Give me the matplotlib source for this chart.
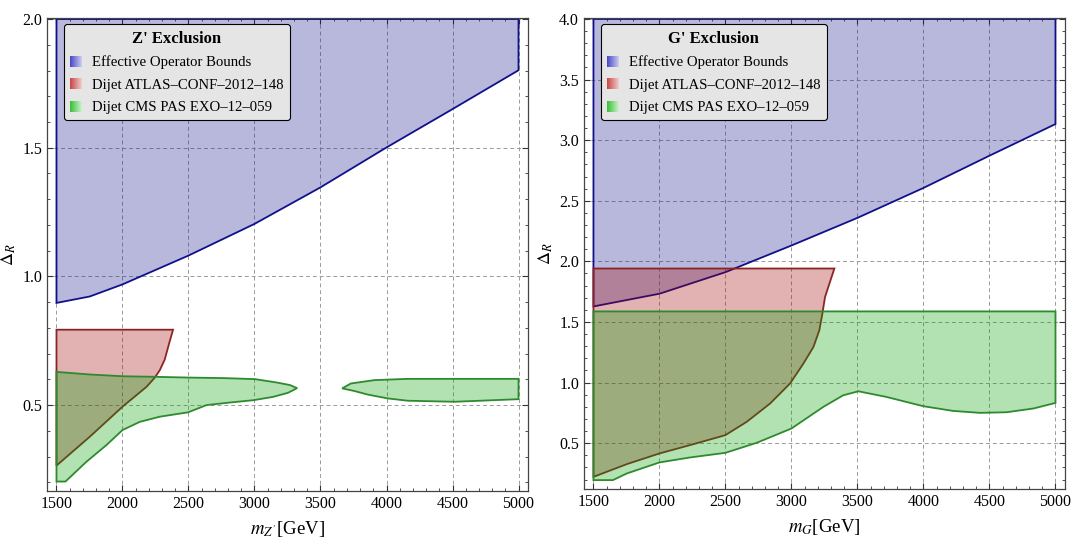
import numpy as np
import matplotlib
matplotlib.use("Agg")
import matplotlib.pyplot as plt
import matplotlib.colors as mcolors
from matplotlib.patches import Polygon, Rectangle
from matplotlib.legend_handler import HandlerBase
from matplotlib.ticker import MultipleLocator

# ---- Z' panel data (mass in GeV, Delta_R) ----
z_eff_mass = [1500, 1752, 2000, 2500, 3000, 3500, 4000, 4500, 5000]
z_eff_lower = [0.897, 0.922, 0.969, 1.081, 1.204, 1.346, 1.501, 1.650, 1.801]
z_eff_upper = 2.0

z_atlas_mass = [1500, 1752, 2005, 2182, 2245, 2283, 2320, 2353, 2383]
z_atlas_lower = [0.265, 0.377, 0.496, 0.571, 0.607, 0.636, 0.677, 0.739, 0.793]
z_atlas_upper = 0.793

z_cms_top_mass = [1500, 1752, 2005, 2245, 2500, 2762, 3002, 3167, 3268, 3323]
z_cms_top = [0.629, 0.619, 0.612, 0.610, 0.607, 0.605, 0.601, 0.588, 0.578, 0.566]
z_cms_bot_mass = [3255, 3141, 2990, 2813, 2636, 2497, 2283, 2131, 2000, 1879, 1727, 1568, 1500]
z_cms_bot = [0.548, 0.532, 0.519, 0.510, 0.500, 0.472, 0.455, 0.435, 0.403, 0.345, 0.280, 0.203, 0.203]

z_island_top_mass = [3664, 3730, 3907, 4161, 5000]
z_island_top = [0.565, 0.584, 0.597, 0.602, 0.602]
z_island_bot_mass = [5000, 4516, 4161, 4009, 3857, 3755]
z_island_bot = [0.523, 0.513, 0.517, 0.526, 0.541, 0.555]

# ---- G' panel data ----
g_eff_mass = [1500, 2000, 2500, 3000, 3500, 4000, 4500, 5000]
g_eff_lower = [1.628, 1.733, 1.911, 2.131, 2.359, 2.606, 2.872, 3.133]
g_eff_upper = 4.0

g_atlas_mass = [1500, 1753, 2000, 2232, 2499, 2661, 2838, 2989, 3090, 3166, 3211, 3234, 3254, 3287, 3325]
g_atlas_lower = [0.222, 0.327, 0.415, 0.484, 0.566, 0.676, 0.827, 0.992, 1.156, 1.293, 1.431, 1.568, 1.705, 1.815, 1.941]
g_atlas_upper = 1.941

g_cms_upper = 1.587
g_cms_bot_mass = [5000, 4833, 4629, 4427, 4225, 3998, 3721, 3507, 3392, 3241, 3000, 2737, 2499, 2232, 2000, 1753, 1647, 1500]
g_cms_bot = [0.832, 0.786, 0.755, 0.750, 0.766, 0.805, 0.881, 0.928, 0.895, 0.799, 0.621, 0.503, 0.420, 0.382, 0.341, 0.250, 0.195, 0.195]

labels = ["Effective Operator Bounds", "Dijet ATLAS\u2013CONF\u20132012\u2013148", "Dijet CMS PAS EXO\u201312\u2013059"]

plt.rcParams['font.family'] = ['Liberation Serif', 'DejaVu Serif']
plt.rcParams['mathtext.fontset'] = 'stix'

BLUE = ((0.085, 0.085, 0.556, 0.3), '#10108a')
RED = ((0.63, 0.0, 0.0, 0.3), '#8b2525')
GREEN = ((0.0, 0.63, 0.0, 0.3), '#2e8a2e')


class GradKey:
    def __init__(self, c0, c1):
        self.c0 = np.array(mcolors.to_rgb(c0))
        self.c1 = np.array(mcolors.to_rgb(c1))


class GradHandler(HandlerBase):
    def create_artists(self, legend, orig, xd, yd, width, height, fontsize, trans):
        n = 12
        arts = []
        for i in range(n):
            f = i / (n - 1)
            col = orig.c0 * (1 - f) + orig.c1 * f
            arts.append(Rectangle((-xd + width * i / n, -yd), width / n + 0.3, height,
                                  facecolor=col, edgecolor='none', transform=trans))
        return arts


def add_region(ax, xs, ys, style):
    ax.add_patch(Polygon(np.column_stack([xs, ys]), closed=True, facecolor=style[0],
                         edgecolor=style[1], linewidth=1.3, zorder=2))


def setup(ax, ylim, title, xlabel):
    ax.set_xlim(1428, 5072)
    ax.set_ylim(*ylim)
    ax.xaxis.set_major_locator(MultipleLocator(500))
    ax.xaxis.set_minor_locator(MultipleLocator(100))
    ax.yaxis.set_major_locator(MultipleLocator(0.5))
    ax.yaxis.set_minor_locator(MultipleLocator(0.1))
    ax.tick_params(which='both', direction='in', top=True, right=True, labelsize=11.5, colors='#333333',
                   labelcolor='black')
    ax.tick_params(which='major', length=4, width=0.8)
    ax.tick_params(which='minor', length=2, width=0.6)
    for s in ax.spines.values():
        s.set_color('#444444')
        s.set_linewidth(0.9)
    ax.yaxis.set_major_formatter(matplotlib.ticker.FormatStrFormatter('%.1f'))
    ax.grid(True, which='major', color='#9a9a9a', linestyle=(0, (4, 3)), linewidth=0.7, zorder=0)
    ax.set_axisbelow(True)
    ax.set_xlabel(xlabel, fontsize=13.5, labelpad=5)
    ax.set_ylabel(r"$\Delta_R$", fontsize=13, labelpad=3)
    keys = [GradKey('#4a4ac8', '#c8c8f0'), GradKey('#c84a4a', '#f0c8c8'), GradKey('#3cc03c', '#c8f0c8')]
    leg = ax.legend(keys, labels, handler_map={GradKey: GradHandler()}, title=title,
                    loc='upper left', bbox_to_anchor=(0.035, 0.987), borderaxespad=0,
                    fontsize=10.6, title_fontsize=12, fancybox=True, framealpha=1,
                    facecolor='#e5e5e5', edgecolor='black', handlelength=0.78, handleheight=0.78,
                    handletextpad=0.7, labelspacing=0.6, borderpad=0.42)
    leg.get_title().set_fontweight('bold')
    leg.get_frame().set_linewidth(0.8)
    leg.set_zorder(5)


fig = plt.figure(figsize=(10.8, 5.37), dpi=100)
ax1 = fig.add_axes([0.0435, 0.086, 0.4454, 0.880])
ax2 = fig.add_axes([0.5407, 0.089, 0.4454, 0.877])

# Z' panel
add_region(ax1, [1500, 5000] + z_eff_mass[::-1], [z_eff_upper, z_eff_upper] + z_eff_lower[::-1], BLUE)
add_region(ax1, [1500] + z_atlas_mass[::-1], [z_atlas_upper] + z_atlas_lower[::-1], RED)
add_region(ax1, z_cms_top_mass + z_cms_bot_mass, z_cms_top + z_cms_bot, GREEN)
add_region(ax1, z_island_top_mass + z_island_bot_mass, z_island_top + z_island_bot, GREEN)
setup(ax1, (0.167, 2.003), "Z' Exclusion", r"$m_{Z'}$[GeV]")

# G' panel
add_region(ax2, [1500, 5000] + g_eff_mass[::-1], [g_eff_upper, g_eff_upper] + g_eff_lower[::-1], BLUE)
add_region(ax2, [1500] + g_atlas_mass[::-1], [g_atlas_upper] + g_atlas_lower[::-1], RED)
add_region(ax2, [1500, 5000] + g_cms_bot_mass, [g_cms_upper, g_cms_upper] + g_cms_bot, GREEN)
setup(ax2, (0.12, 4.006), "G' Exclusion", r"$m_G$[GeV]")

fig.savefig("out.png", dpi=100)
